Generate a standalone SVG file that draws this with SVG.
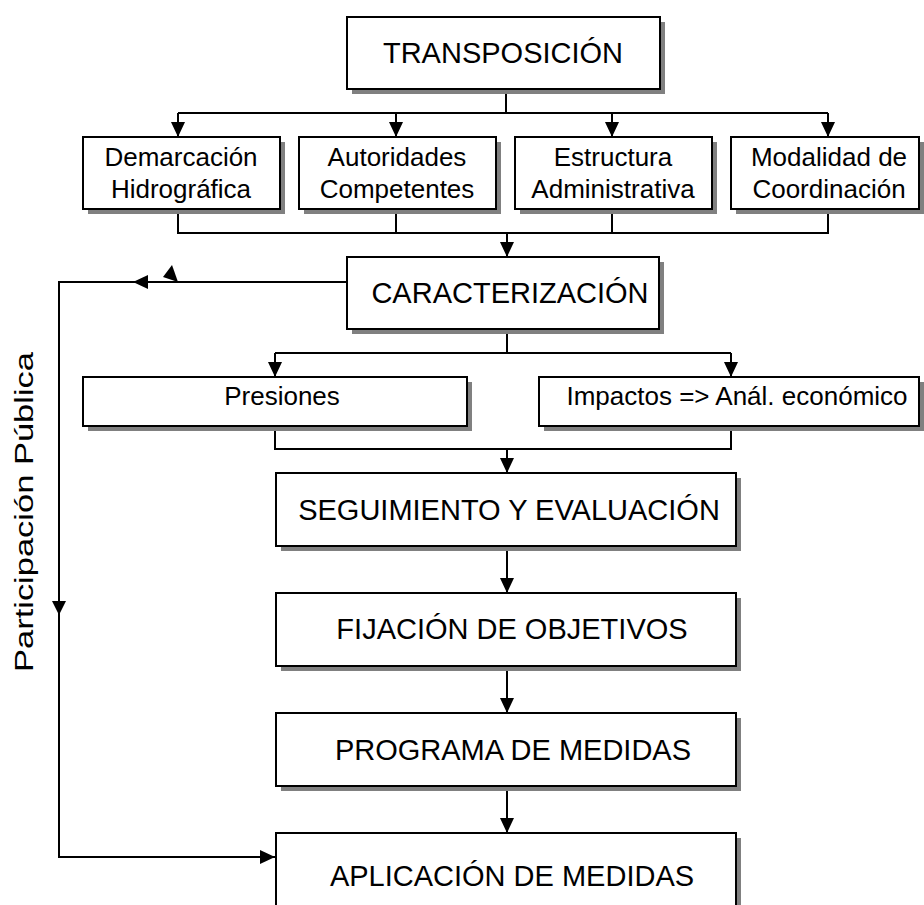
<svg xmlns="http://www.w3.org/2000/svg" width="924" height="905" viewBox="0 0 924 905">
  <style>
    .shadow { fill: #808080; }
    .box { fill: #ffffff; stroke: #000000; stroke-width: 2; }
    .lbl { font-family: "Liberation Sans", Arial, sans-serif; fill: #000000; text-anchor: middle; }
    .big { font-size: 29px; }
    .small { font-size: 26px; }
    .wire { fill: none; stroke: #000000; stroke-width: 2; }
  </style>
  <defs>
    <marker id="arrow" markerUnits="userSpaceOnUse" viewBox="0 0 15 14" refX="15" refY="7" markerWidth="15" markerHeight="14" orient="auto">
      <path d="M0,0 L15,7 L0,14 z" fill="#000000"/>
    </marker>
  </defs>
  <rect width="924" height="905" fill="#ffffff"/>

  <!-- connectors -->
  <g id="connectors">
    <!-- TRANSPOSICIÓN to the four sub-boxes -->
    <path class="wire" d="M506,89 V113 M178,113 H828"/>
    <path class="wire" d="M178,113 V137" marker-end="url(#arrow)"/>
    <path class="wire" d="M396,113 V137" marker-end="url(#arrow)"/>
    <path class="wire" d="M612,113 V137" marker-end="url(#arrow)"/>
    <path class="wire" d="M828,113 V137" marker-end="url(#arrow)"/>
    <!-- sub-boxes merge into CARACTERIZACIÓN -->
    <path class="wire" d="M178,209 V233 H828 V209 M396,209 V233 M612,209 V233"/>
    <path class="wire" d="M507,233 V257" marker-end="url(#arrow)"/>
    <!-- CARACTERIZACIÓN split -->
    <path class="wire" d="M507,329 V353 M275,353 H731"/>
    <path class="wire" d="M275,353 V377" marker-end="url(#arrow)"/>
    <path class="wire" d="M731,353 V377" marker-end="url(#arrow)"/>
    <!-- merge into SEGUIMIENTO -->
    <path class="wire" d="M275,426 V449 H731 V426"/>
    <path class="wire" d="M507,449 V473" marker-end="url(#arrow)"/>
    <!-- main chain -->
    <path class="wire" d="M507,546 V593" marker-end="url(#arrow)"/>
    <path class="wire" d="M507,666 V713" marker-end="url(#arrow)"/>
    <path class="wire" d="M507,786 V833" marker-end="url(#arrow)"/>
    <!-- public participation loop -->
    <path class="wire" d="M347,282 H133" marker-end="url(#arrow)"/>
    <path class="wire" d="M133,282 H59 V615"/>
    <path d="M52,601 L59,615 L66,601 z" fill="#000000"/>
    <path class="wire" d="M59,615 V857 H275" marker-end="url(#arrow)"/>
    <polygon points="172,265 163,277 178,282" fill="#000000"/>
  </g>

  <g id="transposicion">
    <rect class="shadow" x="352" y="22" width="313" height="72"/>
    <rect class="box" x="347" y="17" width="313" height="72"/>
    <text class="lbl big" x="503" y="63">TRANSPOSICIÓN</text>
  </g>

  <g id="demarcacion">
    <rect class="shadow" x="88" y="142" width="197" height="72"/>
    <rect class="box" x="83" y="137" width="197" height="72"/>
    <text class="lbl small" x="181" y="166">Demarcación</text>
    <text class="lbl small" x="181" y="198">Hidrográfica</text>
  </g>

  <g id="autoridades">
    <rect class="shadow" x="304" y="142" width="197" height="72"/>
    <rect class="box" x="299" y="137" width="197" height="72"/>
    <text class="lbl small" x="397" y="166">Autoridades</text>
    <text class="lbl small" x="397" y="198">Competentes</text>
  </g>

  <g id="estructura">
    <rect class="shadow" x="520" y="142" width="197" height="72"/>
    <rect class="box" x="515" y="137" width="197" height="72"/>
    <text class="lbl small" x="613" y="166">Estructura</text>
    <text class="lbl small" x="613" y="198">Administrativa</text>
  </g>

  <g id="modalidad">
    <rect class="shadow" x="736" y="142" width="197" height="72"/>
    <rect class="box" x="731" y="137" width="188" height="72"/>
    <text class="lbl small" x="829" y="166">Modalidad de</text>
    <text class="lbl small" x="829" y="198">Coordinación</text>
  </g>

  <g id="caracterizacion">
    <rect class="shadow" x="352" y="262" width="312" height="72"/>
    <rect class="box" x="347" y="257" width="312" height="72"/>
    <text class="lbl big" x="510" y="303">CARACTERIZACIÓN</text>
  </g>

  <g id="presiones">
    <rect class="shadow" x="88" y="382" width="384" height="49"/>
    <rect class="box" x="83" y="377" width="384" height="49"/>
    <text class="lbl small" x="282" y="405">Presiones</text>
  </g>

  <g id="impactos">
    <rect class="shadow" x="544" y="382" width="390" height="49"/>
    <rect class="box" x="539" y="377" width="380" height="49"/>
    <text class="lbl small" x="737" y="405">Impactos =&gt; Anál. económico</text>
  </g>

  <g id="seguimiento">
    <rect class="shadow" x="281" y="478" width="460" height="73"/>
    <rect class="box" x="276" y="473" width="460" height="73"/>
    <text class="lbl big" x="509" y="520">SEGUIMIENTO Y EVALUACIÓN</text>
  </g>

  <g id="fijacion">
    <rect class="shadow" x="281" y="598" width="460" height="73"/>
    <rect class="box" x="276" y="593" width="460" height="73"/>
    <text class="lbl big" x="512" y="639">FIJACIÓN DE OBJETIVOS</text>
  </g>

  <g id="programa">
    <rect class="shadow" x="281" y="718" width="460" height="73"/>
    <rect class="box" x="276" y="713" width="460" height="73"/>
    <text class="lbl big" x="513" y="760">PROGRAMA DE MEDIDAS</text>
  </g>

  <g id="aplicacion">
    <rect class="shadow" x="281" y="838" width="460" height="73"/>
    <rect class="box" x="276" y="833" width="460" height="73"/>
    <text class="lbl big" x="512" y="886">APLICACIÓN DE MEDIDAS</text>
  </g>

  <g id="participacion">
    <text class="lbl small" transform="translate(33,512) rotate(-90)" font-size="28" textLength="320" lengthAdjust="spacingAndGlyphs">Participación Pública</text>
  </g>
</svg>
